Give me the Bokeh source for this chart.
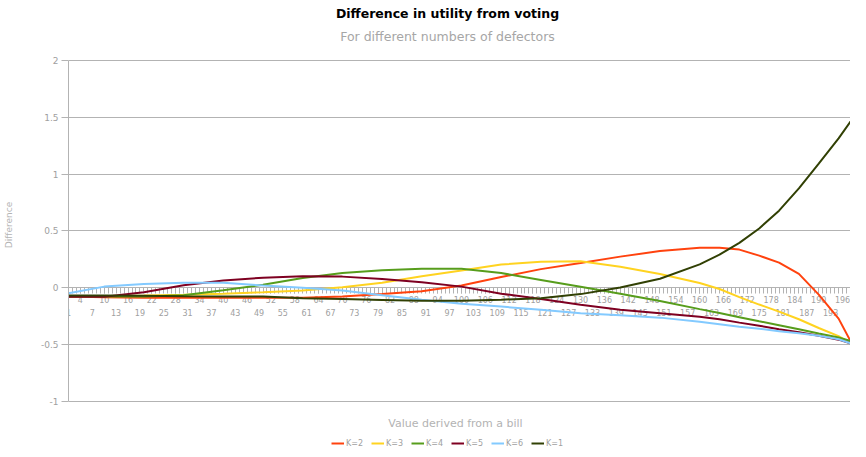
from bokeh.plotting import figure
from bokeh.models import Range1d, LinearAxis, FixedTicker, Legend, LegendItem, Label
from bokeh.embed import file_html
from bokeh.resources import INLINE

title_text = "Difference in utility from voting"
subtitle_text = "For different numbers of defectors"
x_title = "Value derived from a bill"
y_title = "Difference"

categories = [1, 10, 20, 30, 40, 50, 60, 70, 80, 90, 100, 110, 120, 130, 140,
              150, 160, 165, 170, 175, 180, 185, 190, 195, 198]

k2 = [-0.079, -0.084, -0.088, -0.088, -0.088, -0.088, -0.088, -0.079, -0.057, -0.031,
      0.018, 0.093, 0.163, 0.216, 0.273, 0.322, 0.352, 0.352, 0.335, 0.282,
      0.22, 0.121, -0.062, -0.273, -0.47]
k3 = [-0.079, -0.075, -0.07, -0.062, -0.053, -0.04, -0.026, 0.004, 0.044, 0.101,
      0.15, 0.203, 0.229, 0.232, 0.183, 0.12, 0.041, -0.012, -0.083, -0.149,
      -0.211, -0.278, -0.355, -0.427, -0.49]
k4 = [-0.079, -0.079, -0.079, -0.066, -0.022, 0.026, 0.084, 0.128, 0.154, 0.167,
      0.167, 0.128, 0.068, 0.008, -0.053, -0.117, -0.189, -0.224, -0.26, -0.296,
      -0.331, -0.367, -0.404, -0.439, -0.47]
k5 = [-0.08, -0.08, -0.04, 0.022, 0.062, 0.088, 0.1, 0.097, 0.077, 0.048,
      0.009, -0.053, -0.101, -0.15, -0.194, -0.225, -0.256, -0.278, -0.308, -0.335,
      -0.366, -0.392, -0.423, -0.458, -0.49]
k6 = [-0.05, 0.009, 0.031, 0.044, 0.044, 0.018, 0.0, -0.026, -0.066, -0.106,
      -0.141, -0.167, -0.194, -0.225, -0.242, -0.264, -0.3, -0.322, -0.344, -0.361,
      -0.383, -0.401, -0.423, -0.454, -0.49]
k1 = [-0.07, -0.07, -0.072, -0.075, -0.077, -0.079, -0.093, -0.101, -0.108, -0.115,
      -0.115, -0.106, -0.093, -0.057, 0.002, 0.078, 0.205, 0.29, 0.394, 0.521,
      0.678, 0.874, 1.092, 1.314, 1.463]

series_names = ["K=2", "K=3", "K=4", "K=5", "K=6", "K=1"]
series_values = [k2, k3, k4, k5, k6, k1]
series_colors = ["#ff420e", "#ffd320", "#579d1c", "#7e0021", "#83caff", "#314004"]

y_ticks = [-1, -0.5, 0, 0.5, 1, 1.5, 2]
y_tick_labels = ["-1", "-0.5", "0", "0.5", "1", "1.5", "2"]

all_categories = list(range(1, 201))
upper_labels = list(range(4, 201, 6))
lower_labels = list(range(1, 201, 6))

FONT = "DejaVu Sans"
GRAY = "#b3b3b3"
LABEL_GRAY = "#a0a0a0"

# The plot frame spans the full figure height; the value axis is bounded to [-1, 2]
# so that title, axis title and legend can sit inside the frame area.
p = figure(width=850, height=449, output_backend="svg", toolbar_location=None,
           x_range=Range1d(1, 198), y_range=Range1d(-1.425, 2.528),
           x_axis_location=None, y_axis_location="left",
           min_border_left=61, min_border_right=0, min_border_top=0, min_border_bottom=0)
p.outline_line_color = None
p.background_fill_color = "white"
p.border_fill_color = "white"

yt = FixedTicker(ticks=y_ticks)
p.yaxis.ticker = yt
p.yaxis.bounds = (-1, 2)
p.yaxis.major_label_overrides = {t: l for t, l in zip(y_ticks, y_tick_labels)}
p.yaxis.axis_line_color = GRAY
p.yaxis.major_tick_line_color = GRAY
p.yaxis.major_tick_out = 7
p.yaxis.major_tick_in = 0
p.yaxis.minor_tick_line_color = None
p.yaxis.major_label_standoff = 3
p.yaxis.major_label_text_font = FONT
p.yaxis.major_label_text_font_size = "9px"
p.yaxis.major_label_text_color = LABEL_GRAY
p.yaxis.axis_label = y_title
p.yaxis.axis_label_text_font = FONT
p.yaxis.axis_label_text_font_size = "9px"
p.yaxis.axis_label_text_font_style = "normal"
p.yaxis.axis_label_text_color = GRAY
p.yaxis.axis_label_standoff = 24

for g in p.ygrid:
    g.ticker = yt
    g.grid_line_color = GRAY
    g.grid_line_width = 1
for g in p.xgrid:
    g.visible = False

ax_upper = LinearAxis(ticker=FixedTicker(ticks=upper_labels, minor_ticks=all_categories),
                      fixed_location=0, level="underlay")
ax_upper.axis_line_color = GRAY
ax_upper.major_tick_line_color = GRAY
ax_upper.minor_tick_line_color = GRAY
ax_upper.major_tick_in = 0
ax_upper.major_tick_out = 6
ax_upper.minor_tick_in = 0
ax_upper.minor_tick_out = 6
ax_upper.major_label_standoff = 2
ax_upper.major_label_text_font = FONT
ax_upper.major_label_text_font_size = "8px"
ax_upper.major_label_text_color = LABEL_GRAY
p.add_layout(ax_upper, "below")

ax_lower = LinearAxis(ticker=FixedTicker(ticks=lower_labels), fixed_location=0, level="underlay")
ax_lower.axis_line_color = None
ax_lower.major_tick_line_color = None
ax_lower.minor_tick_line_color = None
ax_lower.major_tick_in = 0
ax_lower.major_tick_out = 0
ax_lower.major_label_standoff = 21
ax_lower.major_label_text_font = FONT
ax_lower.major_label_text_font_size = "8px"
ax_lower.major_label_text_color = LABEL_GRAY
p.add_layout(ax_lower, "below")

items = []
for name, vals, col in zip(series_names, series_values, series_colors):
    r = p.line(categories, vals, line_color=col, line_width=2)
    items.append(LegendItem(label=name, renderers=[r]))

legend = Legend(items=items, orientation="horizontal", location=(263, 1),
                border_line_color=None, background_fill_alpha=0,
                label_text_font=FONT, label_text_font_size="8px",
                label_text_color=LABEL_GRAY, glyph_width=13, glyph_height=10,
                label_standoff=2, spacing=5, padding=0, margin=0,
                label_height=10)
p.add_layout(legend, "center")

p.add_layout(Label(x=379, y=436, x_units="screen", y_units="screen", text=title_text,
                   text_align="center", text_baseline="middle", text_font=FONT,
                   text_font_size="12.5px", text_font_style="bold", text_color="black"))
p.add_layout(Label(x=379, y=413, x_units="screen", y_units="screen", text=subtitle_text,
                   text_align="center", text_baseline="middle", text_font=FONT,
                   text_font_size="12.5px", text_color="#a6a6a6"))
p.add_layout(Label(x=387, y=26, x_units="screen", y_units="screen", text=x_title,
                   text_align="center", text_baseline="middle", text_font=FONT,
                   text_font_size="11px", text_color=GRAY))

open("out.html", "w").write(file_html(p, INLINE))
